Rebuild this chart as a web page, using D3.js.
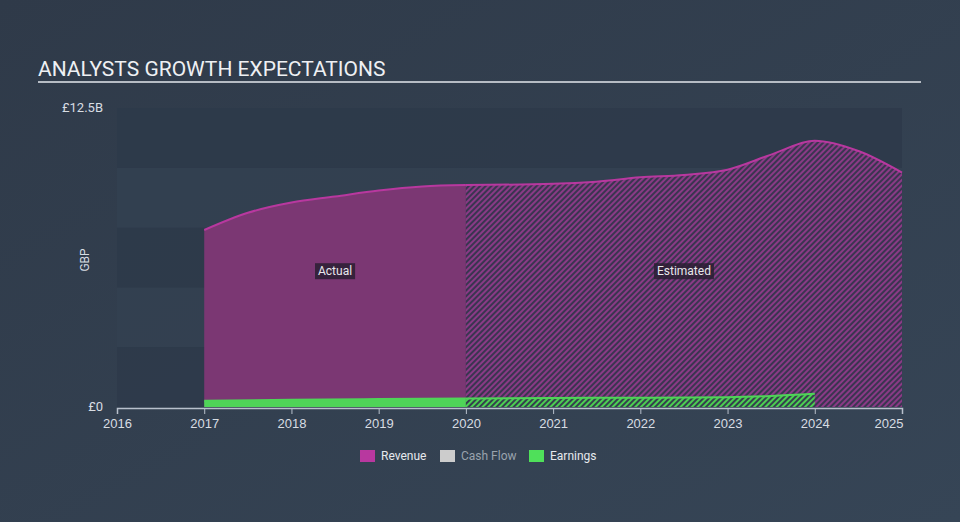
<!DOCTYPE html>
<html><head><meta charset="utf-8">
<script src="https://cdn.jsdelivr.net/npm/d3@7/dist/d3.min.js"></script>
<style>
html,body{margin:0;padding:0;background:#333f4f;}
svg{display:block;font-family:Roboto,"Noto Sans",sans-serif;}
</style></head><body>
<svg id="c" width="960" height="522"></svg>
<script>
const title = "ANALYSTS GROWTH EXPECTATIONS";
const yTickLabels = ["£0", "£12.5B"];
const xTickYears = [2016,2017,2018,2019,2020,2021,2022,2023,2024,2025];
const legendNames = ["Revenue","Cash Flow","Earnings"];
// Revenue in £B
const revActualX = [2017, 2017.5, 2018, 2018.5, 2019, 2019.5, 2020];
const revActualY = [7.4, 8.12, 8.55, 8.8, 9.05, 9.22, 9.28];
const revEstX = [2020, 2021, 2021.5, 2022, 2022.5, 2023, 2023.5, 2024, 2024.5, 2025];
const revEstY = [9.28, 9.33, 9.42, 9.6, 9.7, 9.92, 10.55, 11.13, 10.7, 9.8];
// Earnings in £B
const earnActualX = [2017, 2018, 2019, 2020];
const earnActualY = [0.26, 0.3, 0.33, 0.36];
const earnEstX = [2020, 2021, 2022, 2023, 2023.5, 2024];
const earnEstY = [0.36, 0.38, 0.39, 0.41, 0.46, 0.55];

const svg = d3.select("#c");
const W = 960, H = 522;
const x0 = 117, x1 = 902, yTop = 108, yBot = 407;
const x = d3.scaleLinear().domain([2016, 2025]).range([x0, x1]);
const y = d3.scaleLinear().domain([0, 12.5]).range([yBot, yTop]);

// background gradient
const defs = svg.append("defs");
const bg = defs.append("linearGradient").attr("id","bg").attr("x1",0).attr("y1",0).attr("x2",1).attr("y2",1);
bg.append("stop").attr("offset","0%").attr("stop-color","#2f3a49");
bg.append("stop").attr("offset","100%").attr("stop-color","#364556");
svg.append("rect").attr("width",W).attr("height",H).attr("fill","url(#bg)");

// hatch patterns
function hatch(id, bgc, linec, w){
  const p = defs.append("pattern").attr("id",id).attr("patternUnits","userSpaceOnUse")
    .attr("width",4).attr("height",4).attr("patternTransform","rotate(45)");
  p.append("rect").attr("width",4).attr("height",4).attr("fill",bgc);
  p.append("rect").attr("width",w).attr("height",4).attr("fill",linec);
}
hatch("hRev","#3a3550","#8a3a86",2);
hatch("hEarn","#34404c","#4ccf52",2);

// bands
const bandStep = 2.5;
const bands = d3.range(0, 12.5, bandStep);
svg.append("g").selectAll("rect").data(bands).join("rect")
  .attr("x", x0).attr("width", x1 - x0)
  .attr("y", d => y(d + bandStep)).attr("height", d => y(d) - y(d + bandStep))
  .attr("fill", (d,i) => i % 2 === 0 ? "#2e3a4a" : "#334051")
  .attr("opacity", 0.9);

const zip = (xs, ys) => xs.map((v,i)=>[v, ys[i]]);
const area = d3.area().x(d=>x(d[0])).y0(y(0)).y1(d=>y(d[1])).curve(d3.curveMonotoneX);
const line = d3.line().x(d=>x(d[0])).y(d=>y(d[1])).curve(d3.curveMonotoneX);

const revA = zip(revActualX, revActualY), revE = zip(revEstX, revEstY);
const earnA = zip(earnActualX, earnActualY), earnE = zip(earnEstX, earnEstY);

svg.append("path").attr("d", area(revA)).attr("fill","#7b3773");
svg.append("path").attr("d", area(revE)).attr("fill","url(#hRev)");
svg.append("path").attr("d", line(revA)).attr("fill","none").attr("stroke","#b8389f").attr("stroke-width",2);
svg.append("path").attr("d", line(revE)).attr("fill","none").attr("stroke","#b8389f").attr("stroke-width",2);

svg.append("path").attr("d", area(earnA)).attr("fill","#4fd458");
svg.append("path").attr("d", area(earnE)).attr("fill","url(#hEarn)");
svg.append("path").attr("d", line(earnA)).attr("fill","none").attr("stroke","#4fd458").attr("stroke-width",2);
svg.append("path").attr("d", line(earnE)).attr("fill","none").attr("stroke","#4fd458").attr("stroke-width",2);

// x axis
const ax = svg.append("g").attr("transform",`translate(0,${yBot+1})`)
  .call(d3.axisBottom(x).tickValues(xTickYears).tickFormat(d3.format("d")).tickSizeOuter(0).tickSize(6));
ax.select(".domain").attr("stroke","#b8c0cc").attr("stroke-width",1.5);
ax.selectAll(".tick line").attr("stroke","#b8c0cc");
ax.selectAll(".tick text").attr("fill","#d8dde3").attr("font-size",13).attr("dy","0.85em");
ax.selectAll(".tick text").filter(d=>d===2025).attr("text-anchor","end").attr("dx","1px");

// y labels
svg.append("g").selectAll("text").data([0, 12.5]).join("text")
  .attr("x", 103).attr("y", d => y(d)).attr("dy", "0.3em")
  .attr("text-anchor","end").attr("fill","#d8dde3").attr("font-size",13)
  .text((d,i)=>yTickLabels[i]);

svg.append("text").attr("transform","translate(89,260) rotate(-90)")
  .attr("text-anchor","middle").attr("fill","#d8dde3").attr("font-size",12).text("GBP");

// title
svg.append("text").attr("x",38).attr("y",76).attr("fill","#eef0f3").attr("font-size",21).text(title);
svg.append("line").attr("x1",38).attr("x2",921).attr("y1",82).attr("y2",82).attr("stroke","#b6bcc4").attr("stroke-width",2);

// Actual / Estimated labels
function tag(cx, txt){
  const g = svg.append("g");
  const t = g.append("text").attr("x",cx).attr("y",271).attr("dy","0.35em").attr("text-anchor","middle")
    .attr("fill","#e8e8ec").attr("font-size",12).text(txt);
  const b = t.node().getBBox();
  g.insert("rect","text").attr("x",b.x-3).attr("y",b.y-1).attr("width",b.width+6).attr("height",b.height+2)
    .attr("fill","#2a1f33").attr("opacity",0.85);
}
tag((x(2017)+x(2020))/2, "Actual");
tag((x(2020)+x(2025))/2, "Estimated");

// legend
const legColors = ["#b8389f","#cccccc","#4fe05a"];
const legX = [360, 440, 529];
const lg = svg.append("g");
legendNames.forEach((n,i)=>{
  lg.append("rect").attr("x",legX[i]).attr("y",450).attr("width",15).attr("height",12).attr("fill",legColors[i]);
  lg.append("text").attr("x",legX[i]+21).attr("y",456).attr("dy","0.35em").attr("font-size",12)
    .attr("fill", i===1 ? "#9aa3ad" : "#e6e9ed").text(n);
});
</script></body></html>
